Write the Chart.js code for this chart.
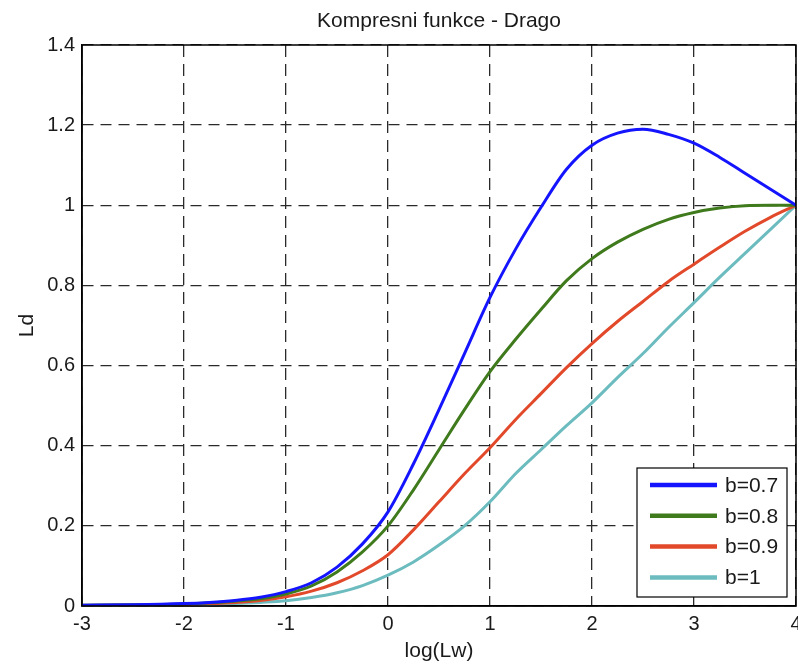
<!DOCTYPE html>
<html>
<head>
<meta charset="utf-8">
<script src="https://cdn.jsdelivr.net/npm/chart.js@4/dist/chart.umd.min.js"></script>
<style>
  html, body { margin: 0; padding: 0; background: #fff; }
  #wrap { width: 798px; height: 666px; }
</style>
</head>
<body>
<div id="wrap"><canvas id="chart" width="798" height="666"></canvas></div>
<script>
// log(Lw) sample points
const xValues = [-3, -2.5, -2, -1.75, -1.5, -1.25, -1, -0.75, -0.5, -0.25, 0, 0.25, 0.5, 0.75, 1,
  1.25, 1.5, 1.75, 2, 2.25, 2.5, 2.75, 3, 3.25, 3.5, 3.75, 4];

// Ld values, one array per b
const b07 = [0.002, 0.003, 0.006, 0.009, 0.014, 0.022, 0.036, 0.058, 0.097, 0.155, 0.235, 0.355, 0.49, 0.63, 0.77,
  0.89, 0.995, 1.09, 1.15, 1.18, 1.19, 1.177, 1.155, 1.12, 1.08, 1.04, 1.0];
const b08 = [0.002, 0.003, 0.005, 0.008, 0.012, 0.018, 0.03, 0.05, 0.085, 0.135, 0.2, 0.29, 0.39, 0.49, 0.585,
  0.665, 0.74, 0.812, 0.867, 0.908, 0.94, 0.965, 0.982, 0.993, 0.999, 1.0, 1.0];
const b09 = [0.001, 0.002, 0.004, 0.006, 0.009, 0.014, 0.023, 0.037, 0.058, 0.088, 0.128, 0.19, 0.26, 0.33, 0.395,
  0.465, 0.53, 0.595, 0.655, 0.71, 0.76, 0.81, 0.853, 0.895, 0.935, 0.97, 1.0];
const b10 = [0.001, 0.001, 0.002, 0.004, 0.006, 0.009, 0.013, 0.021, 0.033, 0.051, 0.077, 0.11, 0.152, 0.2, 0.26,
  0.33, 0.39, 0.45, 0.507, 0.57, 0.63, 0.695, 0.757, 0.82, 0.88, 0.94, 1.0];

const seriesLabels = ["b=0.7", "b=0.8", "b=0.9", "b=1"];
const seriesColors = ["#1414ff", "#3f7a1c", "#e2492a", "#6cbcbf"];
const xTicks = [-3, -2, -1, 0, 1, 2, 3, 4];
const yTicks = [0, 0.2, 0.4, 0.6, 0.8, 1, 1.2, 1.4];

const FONT = "Liberation Sans, Arial, sans-serif";

const toPoints = (ys) => ys.map((y, i) => ({ x: xValues[i], y: y }));

const datasets = [b07, b08, b09, b10].map((ys, i) => ({
  label: seriesLabels[i],
  data: toPoints(ys),
  borderColor: seriesColors[i],
  borderWidth: 3,
  pointRadius: 0,
  cubicInterpolationMode: "monotone",
  fill: false,
}));

// frame, title, axis titles and legend box, drawn like the matlab figure
const matlabDecor = {
  id: "matlabDecor",
  afterDraw(chart) {
    const ctx = chart.ctx;
    const a = chart.chartArea;
    ctx.save();
    ctx.strokeStyle = "#000";
    ctx.lineWidth = 1.5;
    ctx.strokeRect(a.left, a.top, a.right - a.left, a.bottom - a.top);

    const cx = (a.left + a.right) / 2;
    ctx.fillStyle = "#1a1a1a";
    ctx.textAlign = "center";
    ctx.textBaseline = "middle";
    ctx.font = "21px " + FONT;
    ctx.fillText("Kompresni funkce - Drago", cx, 21);

    ctx.font = "21px " + FONT;
    ctx.fillText("log(Lw)", cx, 651);
    ctx.save();
    ctx.translate(27, (a.top + a.bottom) / 2);
    ctx.rotate(-Math.PI / 2);
    ctx.fillText("Ld", 0, 0);
    ctx.restore();

    // legend
    const lx = 637, ly = 468, lw = 150, lh = 129;
    ctx.fillStyle = "#fff";
    ctx.fillRect(lx, ly, lw, lh);
    ctx.lineWidth = 1.2;
    ctx.strokeStyle = "#000";
    ctx.strokeRect(lx, ly, lw, lh);
    ctx.font = "21px " + FONT;
    ctx.textAlign = "left";
    chart.data.datasets.forEach((ds, i) => {
      const yy = 485 + i * 30.8;
      ctx.strokeStyle = ds.borderColor;
      ctx.lineWidth = 4.5;
      ctx.beginPath();
      ctx.moveTo(650, yy);
      ctx.lineTo(717, yy);
      ctx.stroke();
      ctx.fillStyle = "#1a1a1a";
      ctx.fillText(ds.label, 725, yy + 1);
    });
    ctx.restore();
  },
};

const noSidePad = (scale) => {
  scale.paddingLeft = 0;
  scale.paddingRight = 0;
};

new Chart(document.getElementById("chart"), {
  type: "line",
  data: { datasets: datasets },
  plugins: [matlabDecor],
  options: {
    responsive: false,
    animation: false,
    layout: { padding: { top: 45, right: 2, left: 0, bottom: 0 } },
    plugins: {
      legend: { display: false },
      title: { display: false },
      tooltip: { enabled: false },
    },
    scales: {
      x: {
        type: "linear",
        min: -3,
        max: 4,
        afterBuildTicks: (scale) => { scale.ticks = xTicks.map((v) => ({ value: v })); },
        afterFit: (scale) => { scale.height = 60; noSidePad(scale); },
        grid: { color: "#2a2a2a", lineWidth: 1.3, drawTicks: false },
        border: { display: true, color: "#000", width: 1.5, dash: [12, 7] },
        ticks: {
          color: "#1a1a1a", font: { family: FONT, size: 20 }, padding: 6, maxRotation: 0,
          callback: (v) => String(v),
        },
      },
      y: {
        min: 0,
        max: 1.4,
        afterBuildTicks: (scale) => { scale.ticks = yTicks.map((v) => ({ value: v })); },
        afterFit: (scale) => { scale.width = 82; scale.paddingTop = 0; scale.paddingBottom = 0; },
        grid: { color: "#2a2a2a", lineWidth: 1.3, drawTicks: false },
        border: { display: true, color: "#000", width: 1.5, dash: [11, 7] },
        ticks: {
          color: "#1a1a1a", font: { family: FONT, size: 20 }, padding: 7,
          callback: (v) => String(Math.round(v * 10) / 10),
        },
      },
    },
  },
});
</script>
</body>
</html>
